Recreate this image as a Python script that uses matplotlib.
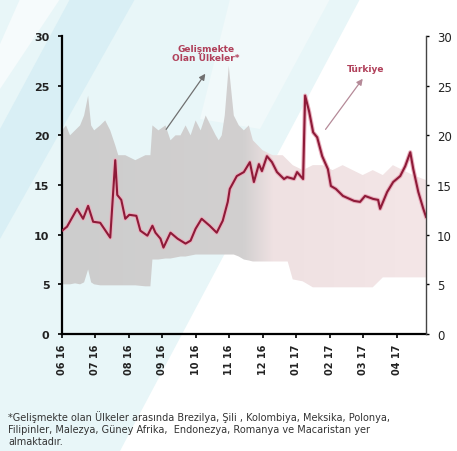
import numpy as np
import matplotlib
matplotlib.use("Agg")
import matplotlib.pyplot as plt
from matplotlib.colors import LinearSegmentedColormap
from matplotlib.patches import Polygon

# -----------------------------------------------------------------------------
# Data (x = months since June 2016)
# -----------------------------------------------------------------------------
tick_labels = ["06 16", "07 16", "08 16", "09 16", "10 16", "11 16",
               "12 16", "01 17", "02 17", "03 17", "04 17"]

turkey_x = [0.00, 0.15, 0.45, 0.63, 0.78, 0.93, 1.14, 1.44, 1.59, 1.65, 1.77,
            1.89, 2.01, 2.22, 2.34, 2.55, 2.70, 2.79, 2.94, 3.03, 3.24, 3.45,
            3.69, 3.84, 3.99, 4.17, 4.41, 4.62, 4.65, 4.80, 4.95, 5.01, 5.22,
            5.43, 5.61, 5.73, 5.88, 5.97, 6.12, 6.27, 6.42, 6.63, 6.72, 6.93,
            7.02, 7.20, 7.26, 7.38, 7.50, 7.62, 7.77, 7.94, 8.03, 8.18, 8.39,
            8.72, 8.90, 9.05, 9.29, 9.44, 9.50, 9.71, 9.89, 10.10, 10.25,
            10.40, 10.49, 10.64, 10.79, 10.87]
turkey_y = [10.4, 10.8, 12.6, 11.6, 12.9, 11.3, 11.2, 9.7, 17.5, 14.0, 13.5,
            11.6, 12.0, 11.9, 10.4, 9.9, 10.9, 10.2, 9.6, 8.7, 10.2, 9.6,
            9.1, 9.4, 10.6, 11.6, 10.9, 10.2, 10.4, 11.4, 13.3, 14.6, 15.9,
            16.3, 17.3, 15.3, 17.1, 16.4, 17.9, 17.3, 16.3, 15.6, 15.8, 15.6,
            16.3, 15.6, 24.0, 22.4, 20.3, 19.8, 17.9, 16.6, 14.9, 14.6, 13.9,
            13.4, 13.3, 13.9, 13.6, 13.5, 12.6, 14.3, 15.3, 15.9, 16.9,
            18.3, 16.6, 14.3, 12.6, 11.8]

em_x = [0.00, 0.12, 0.24, 0.39, 0.54, 0.66, 0.78, 0.87, 0.96, 1.14, 1.29,
        1.44, 1.59, 1.68, 1.89, 2.19, 2.49, 2.64, 2.70, 2.88, 3.09, 3.24,
        3.39, 3.54, 3.69, 3.84, 3.99, 4.14, 4.29, 4.44, 4.59, 4.68, 4.77,
        4.86, 4.98, 5.13, 5.28, 5.43, 5.58, 5.70, 5.99, 6.29, 6.59, 6.74,
        6.89, 7.19, 7.49, 7.78, 8.08, 8.38, 8.68, 8.98, 9.28, 9.58, 9.88,
        10.18, 10.48, 10.87]
em_hi = [20.5, 21.0, 20.0, 20.5, 21.0, 22.0, 24.0, 21.0, 20.5, 21.0, 21.5,
         20.5, 19.0, 18.0, 18.0, 17.5, 18.0, 18.0, 21.0, 20.5, 21.0, 19.5,
         20.0, 20.0, 21.0, 20.0, 21.5, 20.5, 22.0, 21.0, 20.0, 19.5, 20.0,
         22.0, 27.0, 22.0, 21.0, 20.5, 21.0, 19.5, 18.5, 18.0, 18.0, 17.5,
         17.0, 16.5, 17.0, 17.0, 16.5, 17.0, 16.5, 16.0, 16.5, 16.0, 17.0,
         16.5, 16.0, 15.5]
em_lo = [5.0, 5.0, 5.0, 5.1, 5.0, 5.2, 6.5, 5.2, 5.0, 4.9, 4.9,
         4.9, 4.9, 4.9, 4.9, 4.9, 4.8, 4.8, 7.5, 7.5, 7.6, 7.6,
         7.7, 7.8, 7.8, 7.9, 8.0, 8.0, 8.0, 8.0, 8.0, 8.0, 8.0,
         8.0, 8.0, 8.0, 7.8, 7.5, 7.4, 7.3, 7.3, 7.3, 7.3, 7.3,
         5.5, 5.3, 4.7, 4.7, 4.7, 4.7, 4.7, 4.7, 4.7, 5.7, 5.7,
         5.7, 5.7, 5.7]

footnote = ("*Gelişmekte olan Ülkeler arasında Brezilya, Şili , Kolombiya, Meksika, Polonya,\n"
            "Filipinler, Malezya, Güney Afrika,  Endonezya, Romanya ve Macaristan yer\n"
            "almaktadır.")

# -----------------------------------------------------------------------------
# Figure and background
# -----------------------------------------------------------------------------
W, H = 457, 452
fig = plt.figure(figsize=(W / 100, H / 100), dpi=100, facecolor="white")


def fig_poly(pts, color, z):
    # pts in pixel coords (origin top-left)
    xy = [(px / W, 1 - py / H) for px, py in pts]
    fig.patches.append(Polygon(xy, closed=True, transform=fig.transFigure,
                               facecolor=color, edgecolor="none", zorder=z))


fig_poly([(0, 0), (360, 0), (120, 452), (0, 452)], "#e8f6f8", -3)
fig_poly([(70, 0), (135, 0), (0, 240), (0, 130)], "#d9eff5", -2)
fig_poly([(20, 0), (60, 0), (0, 90), (0, 45)], "#f6fbfc", -2)
fig_poly([(230, 0), (330, 0), (260, 130), (200, 120)], "#f1f9fa", -2)

ax = fig.add_axes([62 / W, 1 - 335 / H, 364 / W, 298 / H])
ax.set_facecolor("none")

# emerging markets band (gray fading to pink)
band = ax.fill_between(em_x, em_lo, em_hi, facecolor="none", edgecolor="none")
cmap = LinearSegmentedColormap.from_list(
    "band", [(0, "#cdcdcd"), (0.5, "#d2d0d0"), (0.58, "#efe1e2"), (1, "#f4e6e7")])
grad = np.linspace(0, 1, 256).reshape(1, -1)
im = ax.imshow(grad, cmap=cmap, aspect="auto", extent=[0, 10.87, 0, 30],
               origin="lower", zorder=1)
im.set_clip_path(band.get_paths()[0], transform=ax.transData)

# Turkey line
ax.plot(turkey_x, turkey_y, color="#e9b0be", lw=3.0, zorder=2,
        solid_joinstyle="round")
ax.plot(turkey_x, turkey_y, color="#8e1a38", lw=1.5, zorder=3,
        solid_joinstyle="round")

ax.set_xlim(0, 10.87)
ax.set_ylim(0, 30)
ax.set_yticks(range(0, 31, 5))
ax.set_xticks(range(len(tick_labels)))
ax.set_xticklabels(tick_labels, rotation=90, fontsize=7, fontweight="bold",
                   color="#222222")
ax.tick_params(axis="y", labelsize=8, length=3, width=1.2, pad=6,
               labelcolor="#222222")
ax.tick_params(axis="x", length=3, width=1.2, pad=4)
for lab in ax.get_yticklabels():
    lab.set_fontweight("bold")
for s in ["top", "right"]:
    ax.spines[s].set_visible(False)
ax.spines["left"].set_linewidth(1.6)
ax.spines["bottom"].set_linewidth(1.6)

ax2 = ax.twinx()
ax2.set_ylim(0, 30)
ax2.set_yticks(range(0, 31, 5))
ax2.tick_params(axis="y", labelsize=8.5, length=2, width=1, pad=6,
                labelcolor="#222222")
for s in ["top", "left", "bottom"]:
    ax2.spines[s].set_visible(False)
ax2.spines["right"].set_linewidth(1.0)
ax2.spines["right"].set_color("#444444")

# annotations
ax.text(4.3, 28.3, "Gelişmekte\nOlan Ülkeler*", ha="center", va="center",
        fontsize=6.5, fontweight="bold", color="#b0405a", linespacing=0.95,
        zorder=5)
ax.annotate("", xy=(4.28, 26.2), xytext=(3.11, 20.6),
            arrowprops=dict(arrowstyle="-|>", color="#707070", lw=0.9,
                            mutation_scale=9, shrinkA=0, shrinkB=0),
            zorder=5)
ax.annotate("", xy=(8.98, 25.7), xytext=(7.87, 20.6),
            arrowprops=dict(arrowstyle="-|>", color="#b58a98", lw=0.9,
                            mutation_scale=9, shrinkA=0, shrinkB=0),
            zorder=5)
ax.text(9.07, 26.7, "Türkiye", ha="center", va="center", fontsize=6.5,
        fontweight="bold", color="#b0405a", zorder=5)

fig.text(8 / W, 1 - 411 / H, footnote, ha="left", va="top", fontsize=7,
         color="#333333", linespacing=1.25)

fig.savefig("out.png", dpi=100, facecolor=fig.get_facecolor())
